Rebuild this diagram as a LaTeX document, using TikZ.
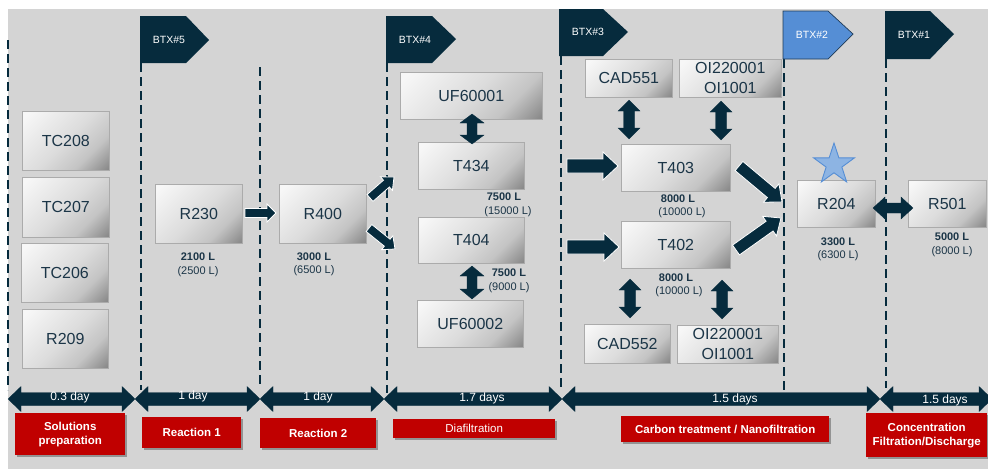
\documentclass[tikz,border=0pt]{standalone}
\usepackage{fontspec}
\setmainfont{Liberation Sans}
\usetikzlibrary{calc,shapes.geometric,shadows}
\definecolor{bg}{HTML}{D4D4D4}
\definecolor{navy}{HTML}{062B3D}
\definecolor{txt}{HTML}{1B3547}
\definecolor{boxline}{HTML}{ABABAB}
\definecolor{redbox}{HTML}{C00000}
\definecolor{flagblue}{HTML}{558ED5}
\definecolor{flagedge}{HTML}{1F3B57}
\definecolor{starfill}{HTML}{8DB4E3}
\definecolor{bxA}{HTML}{F7F7F7}
\definecolor{bxB}{HTML}{DCDCDC}
\definecolor{bxM}{HTML}{C4C4C4}
\definecolor{bxC}{HTML}{8A8A8A}
\pgfdeclarehorizontalshading{boxshade}{100bp}{color(0bp)=(bxA); color(18bp)=(bxA); color(50bp)=(bxB); color(68bp)=(bxM); color(84bp)=(bxC); color(100bp)=(bxC)}
\newcommand\fatarrow[6][fat]{%
  \coordinate (fah) at ($(#3)!#6!(#2)$);
  \path[#1] ($(#2)!#4!90:(#3)$) -- ($(fah)!#4!90:(#3)$) -- ($(fah)!#5!90:(#3)$) -- (#3)
    -- ($(fah)!#5!-90:(#3)$) -- ($(fah)!#4!-90:(#3)$) -- ($(#2)!#4!-90:(#3)$) -- cycle;}
\newcommand\dblarrow[6][dbl]{%
  \coordinate (dbha) at ($(#2)!#6!(#3)$);
  \coordinate (dbhb) at ($(#3)!#6!(#2)$);
  \path[#1] (#2) -- ($(dbha)!#5!90:(#3)$) -- ($(dbha)!#4!90:(#3)$) -- ($(dbhb)!#4!90:(#3)$)
    -- ($(dbhb)!#5!90:(#3)$) -- (#3) -- ($(dbhb)!#5!-90:(#3)$) -- ($(dbhb)!#4!-90:(#3)$)
    -- ($(dbha)!#4!-90:(#3)$) -- ($(dbha)!#5!-90:(#3)$) -- cycle;}
\tikzset{
  box/.style={draw=boxline, line width=0.7pt, shade, shading=boxshade, shading angle=-45,
    inner sep=0pt, text=txt, align=center, anchor=north west, font=\fontsize{16}{20}\selectfont},
  volmain/.style={text=txt, font=\fontsize{11}{13}\selectfont\bfseries, inner sep=0pt},
  volsub/.style={text=txt, font=\fontsize{11}{13}\selectfont, inner sep=0pt},
  sepline/.style={draw=navy, line width=1.6pt, dash pattern=on 9pt off 5pt},
  fat/.style={fill=navy, draw=white, line width=0.8pt, line join=miter},
  dbl/.style={fill=navy, draw=navy, line width=0.3pt},
  flagtext/.style={text=white, font=\fontsize{10.5}{12}\selectfont, inner sep=0pt},
  daytext/.style={text=white, font=\fontsize{12}{14}\selectfont, inner sep=0pt},
  phase/.style={fill=redbox, text=white, font=\fontsize{11.5}{14}\selectfont\bfseries,
    align=center, inner sep=0pt, anchor=north west,
    drop shadow={shadow xshift=2pt, shadow yshift=-2pt, fill=black, opacity=0.3}},
}
\begin{document}
\begin{tikzpicture}[x=1pt,y=-1pt]
\useasboundingbox (0,0) rectangle (988,469);
\fill[white] (0,0) rectangle (988,469);
\fill[bg] (8,9) rectangle (988,469);
% separators
\foreach \x/\a/\b in {8/40/390, 141/63/390, 260/67/388, 387/63/393, 561/56/390, 784/59/393, 886/59/388}
  \draw[sepline] (\x,\a) -- (\x,\b);
% flags
\fill[navy] (140,16) -- (186,16) -- (209,40) -- (186,63) -- (140,63) -- cycle;
\node[flagtext] (f5) at (169,40) {BTX\#5};
\fill[navy] (386,16) -- (432,16) -- (456,39) -- (432,63) -- (386,63) -- cycle;
\node[flagtext] (f4) at (415,40) {BTX\#4};
\fill[navy] (559,9) -- (603,9) -- (628,32) -- (603,56) -- (559,56) -- cycle;
\node[flagtext] (f3) at (588,32) {BTX\#3};
\filldraw[fill=flagblue, draw=flagedge, line width=0.7pt] (783,11) -- (828,11) -- (853,34) -- (828,59) -- (783,59) -- cycle;
\node[flagtext] (f2) at (812,35) {BTX\#2};
\fill[navy] (885,11) -- (930,11) -- (954,34) -- (930,59) -- (885,59) -- cycle;
\node[flagtext] (f1) at (914,35) {BTX\#1};
% boxes
\node[box, minimum width=87pt, minimum height=59pt] (tc208) at (22,111) {TC208};
\node[box, minimum width=87pt, minimum height=60pt] (tc207) at (22,177) {TC207};
\node[box, minimum width=87pt, minimum height=59pt] (tc206) at (21,243) {TC206};
\node[box, minimum width=86pt, minimum height=59pt] (r209) at (22,309) {R209};
\node[box, minimum width=87pt, minimum height=59pt] (r230) at (155,184) {R230};
\node[box, minimum width=87pt, minimum height=59pt] (r400) at (279,184) {R400};
\node[box, minimum width=142pt, minimum height=47pt] (uf1) at (400,72) {UF60001};
\node[box, minimum width=106pt, minimum height=47pt] (t434) at (418,142) {T434};
\node[box, minimum width=106pt, minimum height=46pt] (t404) at (418,217) {T404};
\node[box, minimum width=106pt, minimum height=47pt] (uf2) at (417,300) {UF60002};
\node[box, minimum width=87pt, minimum height=38pt] (cad551) at (585,59) {CAD551};
\node[box, minimum width=102pt, minimum height=38pt] (oi1) at (679,59) {OI220001\\OI1001};
\node[box, minimum width=109pt, minimum height=47pt] (t403) at (621,144) {T403};
\node[box, minimum width=109pt, minimum height=47pt] (t402) at (621,221) {T402};
\node[box, minimum width=86pt, minimum height=39pt] (cad552) at (584,324) {CAD552};
\node[box, minimum width=101pt, minimum height=38pt] (oi2) at (677,325) {OI220001\\OI1001};
\node[box, minimum width=78pt, minimum height=47pt] (r204) at (797,180) {R204};
\node[box, minimum width=78pt, minimum height=47pt] (r501) at (908,180) {R501};
% star
\node[star, star points=5, star point ratio=2.6, minimum size=43pt, inner sep=0pt,
  fill=starfill, draw=flagblue, line width=0.9pt] (star) at (834,164.5) {};
% volumes
\node[volmain] (v1a) at (198,257) {2100 L};   \node[volsub] (v1b) at (198,272) {(2500 L)};
\node[volmain] (v2a) at (314,257) {3000 L};   \node[volsub] (v2b) at (314,271) {(6500 L)};
\node[volmain] (v3a) at (504,197) {7500 L};   \node[volsub] (v3b) at (508,212) {(15000 L)};
\node[volmain] (v4a) at (509,273) {7500 L};   \node[volsub] (v4b) at (509,288) {(9000 L)};
\node[volmain] (v5a) at (678,199) {8000 L};   \node[volsub] (v5b) at (682,213) {(10000 L)};
\node[volmain] (v6a) at (676,278) {8000 L};   \node[volsub] (v6b) at (679,292) {(10000 L)};
\node[volmain] (v7a) at (838,242) {3300 L};   \node[volsub] (v7b) at (838,256) {(6300 L)};
\node[volmain] (v8a) at (952,237) {5000 L};   \node[volsub] (v8b) at (952,252) {(8000 L)};
% single fat arrows
\coordinate (a1s) at (245,213); \coordinate (a1e) at (276,213);
\coordinate (a2s) at (370,198); \coordinate (a2e) at (394,177);
\coordinate (a3s) at (369,228); \coordinate (a3e) at (395,249);
\coordinate (a4s) at (567,166); \coordinate (a4e) at (618,166);
\coordinate (a5s) at (567,247); \coordinate (a5e) at (619,247);
\coordinate (a6s) at (739,166); \coordinate (a6e) at (782,202);
\coordinate (a7s) at (736,250); \coordinate (a7e) at (781,218);
\fatarrow{a1s}{a1e}{4.5pt}{9pt}{9pt}
\fatarrow{a2s}{a2e}{4.5pt}{9pt}{10pt}
\fatarrow{a3s}{a3e}{4.5pt}{9pt}{10pt}
\fatarrow{a4s}{a4e}{7pt}{14pt}{15pt}
\fatarrow{a5s}{a5e}{7pt}{14pt}{15pt}
\fatarrow{a6s}{a6e}{6pt}{12pt}{14pt}
\fatarrow{a7s}{a7e}{6pt}{12pt}{14pt}
% double arrows
\coordinate (d1s) at (472,114); \coordinate (d1e) at (472,144);
\coordinate (d2s) at (472,266); \coordinate (d2e) at (472,299);
\coordinate (d3s) at (629,100); \coordinate (d3e) at (629,139);
\coordinate (d4s) at (721,101); \coordinate (d4e) at (721,140);
\coordinate (d5s) at (630,279); \coordinate (d5e) at (630,318);
\coordinate (d6s) at (722,280); \coordinate (d6e) at (722,319);
\coordinate (d7s) at (873,208); \coordinate (d7e) at (913,208);
\dblarrow{d1s}{d1e}{5pt}{12pt}{9pt}
\dblarrow{d2s}{d2e}{5pt}{12pt}{10pt}
\dblarrow{d3s}{d3e}{5.5pt}{11pt}{11pt}
\dblarrow{d4s}{d4e}{5.5pt}{11pt}{11pt}
\dblarrow{d5s}{d5e}{5.5pt}{11pt}{11pt}
\dblarrow{d6s}{d6e}{5.5pt}{11pt}{11pt}
\dblarrow{d7s}{d7e}{5pt}{11pt}{12pt}
% timeline
\coordinate (t0) at (8,399);   \coordinate (t1) at (135,399); \coordinate (t2) at (260,399);
\coordinate (t3) at (384,399); \coordinate (t4) at (562,399); \coordinate (t5) at (880,399);
\coordinate (t6) at (992,399);
\dblarrow{t0}{t1}{6.5pt}{12.5pt}{13pt}
\dblarrow{t1}{t2}{6.5pt}{12.5pt}{13pt}
\dblarrow{t2}{t3}{6.5pt}{12.5pt}{13pt}
\dblarrow{t3}{t4}{6.5pt}{12.5pt}{13pt}
\dblarrow{t4}{t5}{6.5pt}{12.5pt}{13pt}
\dblarrow{t5}{t6}{6.5pt}{12.5pt}{13pt}
\node[daytext] (d03) at (70,397) {0.3 day};
\node[daytext] (d1a) at (193,396) {1 day};
\node[daytext] (d1b) at (318,397) {1 day};
\node[daytext] (d17) at (482,398) {1.7 days};
\node[daytext] (d15a) at (735,399) {1.5 days};
\node[daytext] (d15b) at (945,400) {1.5 days};
% phases
\node[phase, minimum width=110pt, minimum height=42pt] (p1) at (15,413) {Solutions\\preparation};
\node[phase, minimum width=99pt, minimum height=31pt] (p2) at (142,417) {Reaction 1};
\node[phase, minimum width=116pt, minimum height=30pt] (p3) at (260,418) {Reaction 2};
\node[phase, minimum width=162pt, minimum height=19pt, font=\fontsize{11.5}{14}\selectfont] (p4) at (393,419) {Diafiltration};
\node[phase, minimum width=208pt, minimum height=26pt] (p5) at (621,416) {Carbon treatment / Nanofiltration};
\node[phase, minimum width=121pt, minimum height=44pt] (p6) at (866,413) {Concentration\\Filtration/Discharge};
\end{tikzpicture}
\end{document}
